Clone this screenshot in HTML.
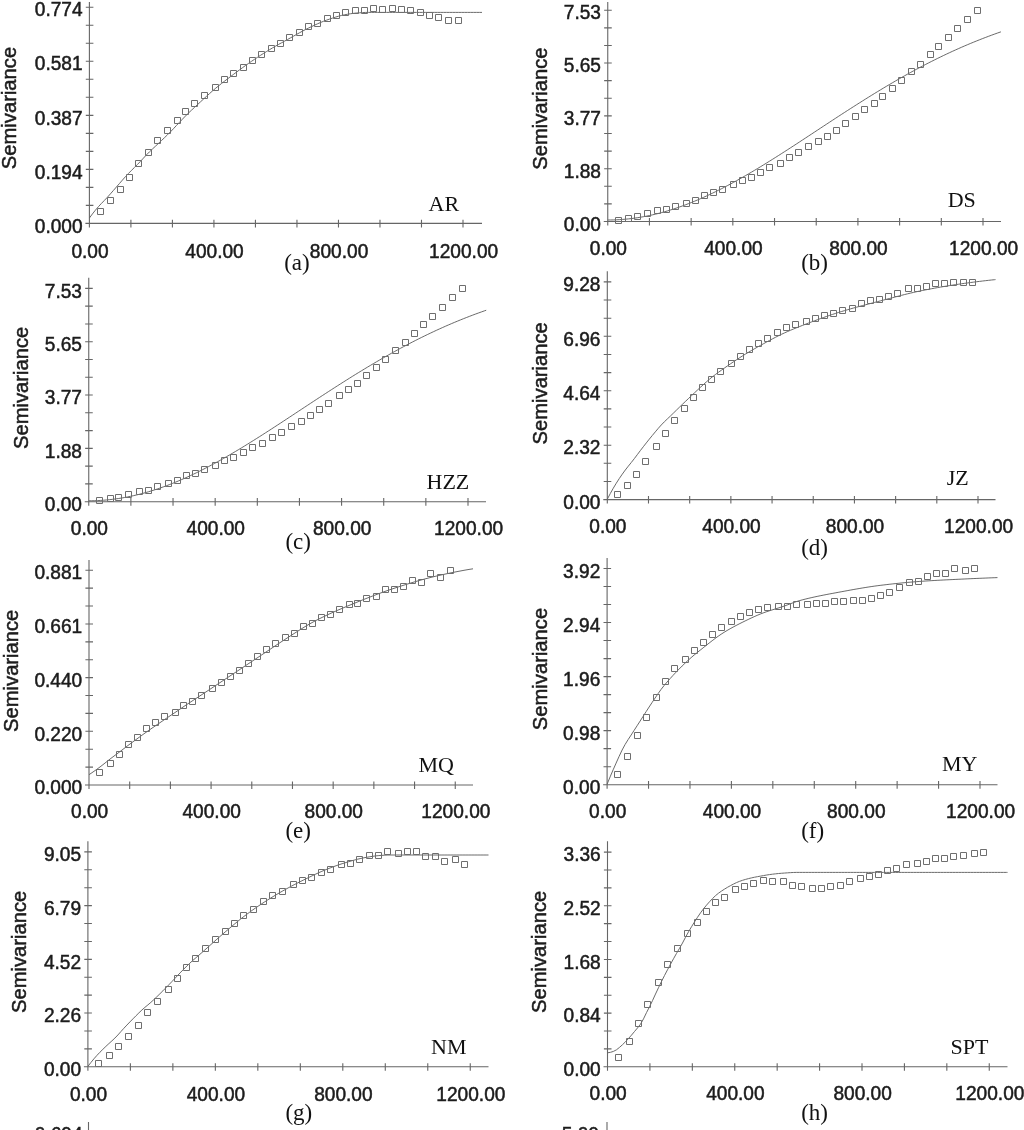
<!DOCTYPE html>
<html lang="en">
<head>
<meta charset="utf-8">
<title>Semivariograms</title>
<style>
html,body{margin:0;padding:0;background:#fff;}
body{width:1024px;height:1130px;overflow:hidden;}
svg{display:block;}
.ax{fill:none;stroke:#666;stroke-width:1.1;}
.cv{fill:none;stroke:#626262;stroke-width:0.95;}
.mk{fill:none;stroke:#6e6e6e;stroke-width:1;}
.cv{stroke-linejoin:round;}
.tk{font-family:"Liberation Sans",Arial,Helvetica,sans-serif;font-size:19.5px;fill:#1c1c1c;stroke:#1c1c1c;stroke-width:0.5;}
.yl{font-family:"Liberation Sans",Arial,Helvetica,sans-serif;font-size:20.2px;fill:#1c1c1c;stroke:#1c1c1c;stroke-width:0.5;}
.sf{font-family:"Liberation Serif","Times New Roman",Times,serif;font-size:22px;fill:#111;}
.cp{font-size:23px;}
</style>
</head>
<body>
<svg width="1024" height="1130" viewBox="0 0 1024 1130">
<rect width="1024" height="1130" fill="#ffffff"/>
<g id="panel-a">
<path class="ax" d="M89.4 2V227.4M85.4 223.4H482M85.8 7.25h7.6M85.8 25.26h7.6M85.8 43.27h7.6M85.8 61.29h7.6M85.8 79.3h7.6M85.8 97.31h7.6M85.8 115.33h7.6M85.8 133.34h7.6M85.8 151.35h7.6M85.8 169.36h7.6M85.8 187.38h7.6M85.8 205.39h7.6M130.91 219.8v7.6M172.42 219.8v7.6M213.93 219.8v7.6M255.44 219.8v7.6M296.96 219.8v7.6M338.47 219.8v7.6M379.98 219.8v7.6M421.49 219.8v7.6M463 219.8v7.6"/>
<polyline class="cv" points="89.4,218 92.4,213.98 95.4,210.19 98.4,206.69 101.4,203.49 104.4,200.4 107.4,197.24 110.4,193.89 113.4,190.47 116.4,187.03 119.4,183.59 122.4,180.12 125.4,176.72 128.4,173.52 131.4,170.48 134.4,167.52 137.4,164.53 140.4,161.42 143.4,158.18 146.4,154.95 149.4,151.91 152.4,149.06 155.4,146.27 158.4,143.44 161.4,140.61 164.4,137.77 167.4,134.88 170.4,131.89 173.4,128.77 176.4,125.56 179.4,122.39 182.4,119.23 185.4,116.11 188.4,113.12 191.4,110.27 194.4,107.51 197.4,104.73 200.4,101.94 203.4,99.17 206.4,96.43 209.4,93.71 212.4,91.03 215.4,88.47 218.4,86 221.4,83.61 224.4,81.27 227.4,78.97 230.4,76.7 233.4,74.45 236.4,72.21 239.4,69.98 242.4,67.78 245.4,65.61 248.4,63.49 251.4,61.41 254.4,59.38 257.4,57.38 260.4,55.42 263.4,53.49 266.4,51.61 269.4,49.76 272.4,47.97 275.4,46.23 278.4,44.54 281.4,42.88 284.4,41.23 287.4,39.58 290.4,37.92 293.4,36.23 296.4,34.52 299.4,32.83 302.4,31.19 305.4,29.6 308.4,28.11 311.4,26.66 314.4,25.24 317.4,23.87 320.4,22.57 323.4,21.34 326.4,20.21 329.4,19.16 332.4,18.14 335.4,17.16 338.4,16.27 341.4,15.47 344.4,14.81 347.4,14.27 350.4,13.78 353.4,13.36 356.4,13.03 359.4,12.8 362.4,12.6 365.4,12.45 368.4,12.4 371.4,12.4 374.4,12.4 377.4,12.4 380.4,12.4 383.4,12.4 386.4,12.4 389.4,12.4 392.4,12.4 395.4,12.4 398.4,12.4 401.4,12.4 404.4,12.4 407.4,12.4 410.4,12.4 413.4,12.4 416.4,12.4 419.4,12.4 422.4,12.4 425.4,12.4 428.4,12.4 431.4,12.4 434.4,12.4 437.4,12.4 440.4,12.4 443.4,12.4 446.4,12.4 449.4,12.4 452.4,12.4 455.4,12.4 458.4,12.4 461.4,12.4 464.4,12.4 467.4,12.4 470.4,12.4 473.4,12.4 476.4,12.4 479.4,12.4 482,12.4"/>
<path class="mk" d="M97.5 208.5h6v6h-6zM107.5 197.5h6v6h-6zM117.5 186.5h6v6h-6zM126.5 174.5h6v6h-6zM135.5 160.5h6v6h-6zM145.5 149.5h6v6h-6zM154.5 137.5h6v6h-6zM164.5 127.5h6v6h-6zM174.5 117.5h6v6h-6zM182.5 108.5h6v6h-6zM191.5 100.5h6v6h-6zM201.5 92.5h6v6h-6zM212.5 84.5h6v6h-6zM221.5 76.5h6v6h-6zM230.5 70.5h6v6h-6zM240.5 64.5h6v6h-6zM249.5 57.5h6v6h-6zM258.5 51.5h6v6h-6zM268.5 45.5h6v6h-6zM277.5 40.5h6v6h-6zM286.5 34.5h6v6h-6zM296.5 29.5h6v6h-6zM305.5 23.5h6v6h-6zM314.5 20.5h6v6h-6zM324.5 15.5h6v6h-6zM333.5 12.5h6v6h-6zM342.5 9.5h6v6h-6zM352.5 7.5h6v6h-6zM361.5 7.5h6v6h-6zM370.5 5.5h6v6h-6zM379.5 6.5h6v6h-6zM389.5 5.5h6v6h-6zM398.5 6.5h6v6h-6zM407.5 7.5h6v6h-6zM417.5 9.5h6v6h-6zM426.5 12.5h6v6h-6zM435.5 14.5h6v6h-6zM445.5 17.5h6v6h-6zM455.5 17.5h6v6h-6z"/>
<text class="tk" text-anchor="end" transform="translate(82.6 16.45) scale(0.98 1)">0.774</text>
<text class="tk" text-anchor="end" transform="translate(82.6 70.49) scale(0.98 1)">0.581</text>
<text class="tk" text-anchor="end" transform="translate(82.6 124.53) scale(0.98 1)">0.387</text>
<text class="tk" text-anchor="end" transform="translate(82.6 178.56) scale(0.98 1)">0.194</text>
<text class="tk" text-anchor="end" transform="translate(82.6 232.6) scale(0.98 1)">0.000</text>
<text class="tk" text-anchor="middle" transform="translate(90 258.4) scale(0.98 1)">0.00</text>
<text class="tk" text-anchor="middle" transform="translate(214.53 258.4) scale(0.98 1)">400.00</text>
<text class="tk" text-anchor="middle" transform="translate(339.07 258.4) scale(0.98 1)">800.00</text>
<text class="tk" text-anchor="middle" transform="translate(463.6 258.4) scale(0.98 1)">1200.00</text>
<text class="yl" text-anchor="middle" transform="translate(16.2 108) rotate(-90)">Semivariance</text>
<text class="sf" x="428.5" y="210.75">AR</text>
<text class="sf cp" x="284.15" y="270">(a)</text>
</g>
<g id="panel-b">
<path class="ax" d="M607.75 2V225.5M603.75 221.5H1001M604.15 10.25h7.6M604.15 27.85h7.6M604.15 45.46h7.6M604.15 63.06h7.6M604.15 80.67h7.6M604.15 98.27h7.6M604.15 115.88h7.6M604.15 133.48h7.6M604.15 151.08h7.6M604.15 168.69h7.6M604.15 186.29h7.6M604.15 203.9h7.6M649.44 217.9v7.6M691.14 217.9v7.6M732.83 217.9v7.6M774.53 217.9v7.6M816.22 217.9v7.6M857.92 217.9v7.6M899.61 217.9v7.6M941.31 217.9v7.6M983 217.9v7.6"/>
<polyline class="cv" points="607.75,220 610.75,219.98 613.75,219.91 616.75,219.79 619.75,219.63 622.75,219.42 625.75,219.16 628.75,218.86 631.75,218.51 634.75,218.11 637.75,217.67 640.75,217.18 643.75,216.65 646.75,216.08 649.75,215.46 652.75,214.79 655.75,214.08 658.75,213.33 661.75,212.54 664.75,211.7 667.75,210.82 670.75,209.9 673.75,208.94 676.75,207.94 679.75,206.9 682.75,205.82 685.75,204.71 688.75,203.55 691.75,202.36 694.75,201.13 697.75,199.87 700.75,198.57 703.75,197.24 706.75,195.88 709.75,194.48 712.75,193.05 715.75,191.59 718.75,190.1 721.75,188.58 724.75,187.03 727.75,185.46 730.75,183.86 733.75,182.23 736.75,180.58 739.75,178.9 742.75,177.21 745.75,175.49 748.75,173.74 751.75,171.98 754.75,170.2 757.75,168.4 760.75,166.58 763.75,164.75 766.75,162.9 769.75,161.04 772.75,159.16 775.75,157.27 778.75,155.36 781.75,153.45 784.75,151.53 787.75,149.59 790.75,147.65 793.75,145.71 796.75,143.75 799.75,141.79 802.75,139.82 805.75,137.86 808.75,135.88 811.75,133.91 814.75,131.93 817.75,129.96 820.75,127.98 823.75,126.01 826.75,124.04 829.75,122.07 832.75,120.1 835.75,118.14 838.75,116.18 841.75,114.23 844.75,112.29 847.75,110.35 850.75,108.42 853.75,106.5 856.75,104.59 859.75,102.69 862.75,100.8 865.75,98.92 868.75,97.05 871.75,95.19 874.75,93.34 877.75,91.51 880.75,89.7 883.75,87.89 886.75,86.1 889.75,84.33 892.75,82.57 895.75,80.83 898.75,79.1 901.75,77.4 904.75,75.7 907.75,74.03 910.75,72.37 913.75,70.73 916.75,69.11 919.75,67.51 922.75,65.93 925.75,64.37 928.75,62.82 931.75,61.3 934.75,59.79 937.75,58.31 940.75,56.85 943.75,55.4 946.75,53.98 949.75,52.57 952.75,51.19 955.75,49.83 958.75,48.49 961.75,47.17 964.75,45.87 967.75,44.59 970.75,43.33 973.75,42.1 976.75,40.88 979.75,39.69 982.75,38.51 985.75,37.36 988.75,36.23 991.75,35.11 994.75,34.02 997.75,32.95 1000.75,31.9 1001,31.81"/>
<path class="mk" d="M615.5 217.5h6v6h-6zM625.5 215.5h6v6h-6zM634.5 213.5h6v6h-6zM644.5 210.5h6v6h-6zM654.5 207.5h6v6h-6zM663.5 206.5h6v6h-6zM672.5 203.5h6v6h-6zM683.5 200.5h6v6h-6zM692.5 197.5h6v6h-6zM701.5 192.5h6v6h-6zM710.5 189.5h6v6h-6zM719.5 186.5h6v6h-6zM730.5 181.5h6v6h-6zM739.5 177.5h6v6h-6zM748.5 174.5h6v6h-6zM757.5 169.5h6v6h-6zM766.5 164.5h6v6h-6zM777.5 160.5h6v6h-6zM786.5 154.5h6v6h-6zM795.5 149.5h6v6h-6zM805.5 143.5h6v6h-6zM815.5 138.5h6v6h-6zM824.5 133.5h6v6h-6zM833.5 127.5h6v6h-6zM842.5 120.5h6v6h-6zM852.5 113.5h6v6h-6zM861.5 106.5h6v6h-6zM871.5 100.5h6v6h-6zM879.5 93.5h6v6h-6zM889.5 85.5h6v6h-6zM898.5 77.5h6v6h-6zM908.5 68.5h6v6h-6zM917.5 61.5h6v6h-6zM927.5 51.5h6v6h-6zM935.5 43.5h6v6h-6zM945.5 34.5h6v6h-6zM954.5 25.5h6v6h-6zM964.5 16.5h6v6h-6zM974.5 7.5h6v6h-6z"/>
<text class="tk" text-anchor="end" transform="translate(600.95 19.45) scale(0.98 1)">7.53</text>
<text class="tk" text-anchor="end" transform="translate(600.95 72.26) scale(0.98 1)">5.65</text>
<text class="tk" text-anchor="end" transform="translate(600.95 125.08) scale(0.98 1)">3.77</text>
<text class="tk" text-anchor="end" transform="translate(600.95 177.89) scale(0.98 1)">1.88</text>
<text class="tk" text-anchor="end" transform="translate(600.95 230.7) scale(0.98 1)">0.00</text>
<text class="tk" text-anchor="middle" transform="translate(608.35 254.5) scale(0.98 1)">0.00</text>
<text class="tk" text-anchor="middle" transform="translate(733.43 254.5) scale(0.98 1)">400.00</text>
<text class="tk" text-anchor="middle" transform="translate(858.52 254.5) scale(0.98 1)">800.00</text>
<text class="tk" text-anchor="middle" transform="translate(983.6 254.5) scale(0.98 1)">1200.00</text>
<text class="yl" text-anchor="middle" transform="translate(546.9 108.6) rotate(-90)">Semivariance</text>
<text class="sf" x="947.7" y="207">DS</text>
<text class="sf cp" x="801.15" y="270">(b)</text>
</g>
<g id="panel-c">
<path class="ax" d="M88.75 277.75V505.7M84.75 501.7H486M85.15 288.4h7.6M85.15 306.17h7.6M85.15 323.95h7.6M85.15 341.72h7.6M85.15 359.5h7.6M85.15 377.27h7.6M85.15 395.05h7.6M85.15 412.82h7.6M85.15 430.6h7.6M85.15 448.38h7.6M85.15 466.15h7.6M85.15 483.92h7.6M130.89 498.1v7.6M173.03 498.1v7.6M215.17 498.1v7.6M257.31 498.1v7.6M299.44 498.1v7.6M341.58 498.1v7.6M383.72 498.1v7.6M425.86 498.1v7.6M468 498.1v7.6"/>
<polyline class="cv" points="88.75,500.79 91.75,500.77 94.75,500.7 97.75,500.58 100.75,500.42 103.75,500.21 106.75,499.95 109.75,499.65 112.75,499.31 115.75,498.92 118.75,498.48 121.75,498 124.75,497.47 127.75,496.9 130.75,496.28 133.75,495.62 136.75,494.92 139.75,494.18 142.75,493.39 145.75,492.56 148.75,491.69 151.75,490.77 154.75,489.82 157.75,488.83 160.75,487.8 163.75,486.73 166.75,485.62 169.75,484.47 172.75,483.29 175.75,482.07 178.75,480.81 181.75,479.53 184.75,478.2 187.75,476.85 190.75,475.46 193.75,474.04 196.75,472.59 199.75,471.11 202.75,469.59 205.75,468.06 208.75,466.49 211.75,464.9 214.75,463.28 217.75,461.63 220.75,459.97 223.75,458.28 226.75,456.56 229.75,454.83 232.75,453.07 235.75,451.3 238.75,449.5 241.75,447.69 244.75,445.86 247.75,444.02 250.75,442.16 253.75,440.29 256.75,438.4 259.75,436.5 262.75,434.59 265.75,432.67 268.75,430.74 271.75,428.8 274.75,426.85 277.75,424.9 280.75,422.94 283.75,420.97 286.75,419 289.75,417.03 292.75,415.05 295.75,413.07 298.75,411.09 301.75,409.11 304.75,407.13 307.75,405.16 310.75,403.18 313.75,401.21 316.75,399.24 319.75,397.28 322.75,395.32 325.75,393.36 328.75,391.42 331.75,389.48 334.75,387.54 337.75,385.62 340.75,383.71 343.75,381.8 346.75,379.91 349.75,378.02 352.75,376.15 355.75,374.29 358.75,372.45 361.75,370.61 364.75,368.79 367.75,366.98 370.75,365.19 373.75,363.42 376.75,361.65 379.75,359.91 382.75,358.18 385.75,356.47 388.75,354.77 391.75,353.09 394.75,351.43 397.75,349.79 400.75,348.16 403.75,346.56 406.75,344.97 409.75,343.4 412.75,341.85 415.75,340.32 418.75,338.81 421.75,337.32 424.75,335.85 427.75,334.4 430.75,332.97 433.75,331.56 436.75,330.17 439.75,328.8 442.75,327.45 445.75,326.12 448.75,324.82 451.75,323.53 454.75,322.26 457.75,321.02 460.75,319.79 463.75,318.59 466.75,317.41 469.75,316.24 472.75,315.1 475.75,313.98 478.75,312.88 481.75,311.8 484.75,310.74 486.19,310.24"/>
<path class="mk" d="M96.5 497.5h6v6h-6zM107.5 495.5h6v6h-6zM115.5 494.5h6v6h-6zM125.5 491.5h6v6h-6zM136.5 488.5h6v6h-6zM145.5 487.5h6v6h-6zM154.5 483.5h6v6h-6zM165.5 480.5h6v6h-6zM174.5 477.5h6v6h-6zM183.5 472.5h6v6h-6zM192.5 470.5h6v6h-6zM201.5 466.5h6v6h-6zM212.5 462.5h6v6h-6zM221.5 457.5h6v6h-6zM230.5 454.5h6v6h-6zM240.5 449.5h6v6h-6zM249.5 444.5h6v6h-6zM259.5 440.5h6v6h-6zM269.5 434.5h6v6h-6zM278.5 429.5h6v6h-6zM288.5 423.5h6v6h-6zM298.5 418.5h6v6h-6zM307.5 412.5h6v6h-6zM316.5 406.5h6v6h-6zM325.5 400.5h6v6h-6zM336.5 392.5h6v6h-6zM345.5 386.5h6v6h-6zM354.5 380.5h6v6h-6zM363.5 372.5h6v6h-6zM373.5 364.5h6v6h-6zM382.5 356.5h6v6h-6zM392.5 347.5h6v6h-6zM402.5 339.5h6v6h-6zM411.5 330.5h6v6h-6zM420.5 321.5h6v6h-6zM429.5 313.5h6v6h-6zM439.5 304.5h6v6h-6zM449.5 294.5h6v6h-6zM459.5 285.5h6v6h-6z"/>
<text class="tk" text-anchor="end" transform="translate(81.95 297.6) scale(0.98 1)">7.53</text>
<text class="tk" text-anchor="end" transform="translate(81.95 350.92) scale(0.98 1)">5.65</text>
<text class="tk" text-anchor="end" transform="translate(81.95 404.25) scale(0.98 1)">3.77</text>
<text class="tk" text-anchor="end" transform="translate(81.95 457.57) scale(0.98 1)">1.88</text>
<text class="tk" text-anchor="end" transform="translate(81.95 510.9) scale(0.98 1)">0.00</text>
<text class="tk" text-anchor="middle" transform="translate(89.35 535) scale(0.98 1)">0.00</text>
<text class="tk" text-anchor="middle" transform="translate(215.77 535) scale(0.98 1)">400.00</text>
<text class="tk" text-anchor="middle" transform="translate(342.18 535) scale(0.98 1)">800.00</text>
<text class="tk" text-anchor="middle" transform="translate(468.6 535) scale(0.98 1)">1200.00</text>
<text class="yl" text-anchor="middle" transform="translate(27.6 387.9) rotate(-90)">Semivariance</text>
<text class="sf" x="426.5" y="488.75">HZZ</text>
<text class="sf cp" x="285.4" y="549">(c)</text>
</g>
<g id="panel-d">
<path class="ax" d="M607.3 271.25V503.6M603.3 499.6H995.5M603.7 281.9h7.6M603.7 300.04h7.6M603.7 318.18h7.6M603.7 336.32h7.6M603.7 354.47h7.6M603.7 372.61h7.6M603.7 390.75h7.6M603.7 408.89h7.6M603.7 427.03h7.6M603.7 445.18h7.6M603.7 463.32h7.6M603.7 481.46h7.6M648.49 496v7.6M689.68 496v7.6M730.87 496v7.6M772.06 496v7.6M813.24 496v7.6M854.43 496v7.6M895.62 496v7.6M936.81 496v7.6M978 496v7.6"/>
<polyline class="cv" points="607.3,499.2 610.3,493.52 613.3,488.16 616.3,483.18 619.3,478.52 622.3,474.14 625.3,470.01 628.3,466.18 631.3,462.47 634.3,458.65 637.3,454.66 640.3,450.65 643.3,446.74 646.3,442.91 649.3,439.15 652.3,435.48 655.3,431.86 658.3,428.31 661.3,424.95 664.3,421.85 667.3,418.97 670.3,416.14 673.3,413.23 676.3,410.28 679.3,407.33 682.3,404.42 685.3,401.56 688.3,398.71 691.3,395.88 694.3,393.04 697.3,390.2 700.3,387.4 703.3,384.68 706.3,381.98 709.3,379.37 712.3,376.92 715.3,374.62 718.3,372.41 721.3,370.26 724.3,368.13 727.3,366.02 730.3,363.95 733.3,361.91 736.3,359.9 739.3,357.95 742.3,356.04 745.3,354.18 748.3,352.37 751.3,350.6 754.3,348.87 757.3,347.16 760.3,345.49 763.3,343.84 766.3,342.19 769.3,340.56 772.3,338.96 775.3,337.39 778.3,335.87 781.3,334.4 784.3,333 787.3,331.65 790.3,330.35 793.3,329.09 796.3,327.86 799.3,326.65 802.3,325.47 805.3,324.31 808.3,323.15 811.3,322.01 814.3,320.88 817.3,319.77 820.3,318.67 823.3,317.6 826.3,316.54 829.3,315.5 832.3,314.49 835.3,313.5 838.3,312.53 841.3,311.6 844.3,310.69 847.3,309.8 850.3,308.94 853.3,308.09 856.3,307.26 859.3,306.44 862.3,305.64 865.3,304.84 868.3,304.05 871.3,303.27 874.3,302.49 877.3,301.71 880.3,300.92 883.3,300.13 886.3,299.33 889.3,298.54 892.3,297.74 895.3,296.95 898.3,296.16 901.3,295.39 904.3,294.62 907.3,293.88 910.3,293.16 913.3,292.46 916.3,291.79 919.3,291.15 922.3,290.53 925.3,289.93 928.3,289.35 931.3,288.77 934.3,288.22 937.3,287.67 940.3,287.14 943.3,286.62 946.3,286.12 949.3,285.63 952.3,285.16 955.3,284.7 958.3,284.25 961.3,283.81 964.3,283.39 967.3,282.97 970.3,282.57 973.3,282.17 976.3,281.78 979.3,281.41 982.3,281.05 985.3,280.7 988.3,280.36 991.3,280.03 994.3,279.72 995.5,279.6"/>
<path class="mk" d="M614.5 491.5h6v6h-6zM624.5 482.5h6v6h-6zM633.5 471.5h6v6h-6zM642.5 458.5h6v6h-6zM653.5 443.5h6v6h-6zM662.5 430.5h6v6h-6zM671.5 417.5h6v6h-6zM681.5 405.5h6v6h-6zM690.5 394.5h6v6h-6zM699.5 384.5h6v6h-6zM708.5 376.5h6v6h-6zM717.5 368.5h6v6h-6zM728.5 360.5h6v6h-6zM737.5 353.5h6v6h-6zM746.5 346.5h6v6h-6zM755.5 340.5h6v6h-6zM764.5 335.5h6v6h-6zM774.5 329.5h6v6h-6zM783.5 324.5h6v6h-6zM792.5 321.5h6v6h-6zM803.5 318.5h6v6h-6zM812.5 315.5h6v6h-6zM821.5 312.5h6v6h-6zM830.5 310.5h6v6h-6zM839.5 307.5h6v6h-6zM849.5 305.5h6v6h-6zM858.5 300.5h6v6h-6zM867.5 297.5h6v6h-6zM876.5 296.5h6v6h-6zM885.5 293.5h6v6h-6zM894.5 290.5h6v6h-6zM905.5 285.5h6v6h-6zM914.5 285.5h6v6h-6zM923.5 283.5h6v6h-6zM932.5 280.5h6v6h-6zM941.5 280.5h6v6h-6zM950.5 279.5h6v6h-6zM960.5 279.5h6v6h-6zM969.5 279.5h6v6h-6z"/>
<text class="tk" text-anchor="end" transform="translate(600.5 291.1) scale(0.98 1)">9.28</text>
<text class="tk" text-anchor="end" transform="translate(600.5 345.52) scale(0.98 1)">6.96</text>
<text class="tk" text-anchor="end" transform="translate(600.5 399.95) scale(0.98 1)">4.64</text>
<text class="tk" text-anchor="end" transform="translate(600.5 454.38) scale(0.98 1)">2.32</text>
<text class="tk" text-anchor="end" transform="translate(600.5 508.8) scale(0.98 1)">0.00</text>
<text class="tk" text-anchor="middle" transform="translate(607.9 532.6) scale(0.98 1)">0.00</text>
<text class="tk" text-anchor="middle" transform="translate(731.47 532.6) scale(0.98 1)">400.00</text>
<text class="tk" text-anchor="middle" transform="translate(855.03 532.6) scale(0.98 1)">800.00</text>
<text class="tk" text-anchor="middle" transform="translate(978.6 532.6) scale(0.98 1)">1200.00</text>
<text class="yl" text-anchor="middle" transform="translate(547 383.3) rotate(-90)">Semivariance</text>
<text class="sf" x="946.75" y="484.5">JZ</text>
<text class="sf cp" x="801.15" y="555">(d)</text>
</g>
<g id="panel-e">
<path class="ax" d="M89 560V789M85 785H473M85.4 570.25h7.6M85.4 588.15h7.6M85.4 606.04h7.6M85.4 623.94h7.6M85.4 641.83h7.6M85.4 659.73h7.6M85.4 677.62h7.6M85.4 695.52h7.6M85.4 713.42h7.6M85.4 731.31h7.6M85.4 749.21h7.6M85.4 767.1h7.6M129.69 781.4v7.6M170.39 781.4v7.6M211.08 781.4v7.6M251.78 781.4v7.6M292.47 781.4v7.6M333.17 781.4v7.6M373.86 781.4v7.6M414.56 781.4v7.6M455.25 781.4v7.6"/>
<polyline class="cv" points="89,774.7 92,772.68 95,770.58 98,768.43 101,766.2 104,763.85 107,761.45 110,759.09 113,756.81 116,754.57 119,752.33 122,750.05 125,747.75 128,745.47 131,743.24 134,741.04 137,738.85 140,736.67 143,734.49 146,732.34 149,730.23 152,728.15 155,726.09 158,724.03 161,721.97 164,719.92 167,717.89 170,715.88 173,713.88 176,711.86 179,709.81 182,707.75 185,705.73 188,703.73 191,701.76 194,699.78 197,697.82 200,695.85 203,693.88 206,691.9 209,689.91 212,687.93 215,685.94 218,683.95 221,681.96 224,679.96 227,677.97 230,675.98 233,673.98 236,671.99 239,669.99 242,668 245,666 248,664 251,662.01 254,660.01 257,658.02 260,656.03 263,654.03 266,652.03 269,650.02 272,648 275,645.99 278,643.98 281,642 284,640.04 287,638.12 290,636.18 293,634.24 296,632.31 299,630.39 302,628.51 305,626.67 308,624.89 311,623.17 314,621.53 317,619.96 320,618.45 323,616.97 326,615.54 329,614.14 332,612.77 335,611.43 338,610.12 341,608.83 344,607.55 347,606.3 350,605.05 353,603.82 356,602.59 359,601.37 362,600.16 365,598.97 368,597.79 371,596.62 374,595.47 377,594.34 380,593.22 383,592.13 386,591.06 389,590.02 392,588.99 395,588 398,587.02 401,586.06 404,585.11 407,584.17 410,583.24 413,582.34 416,581.45 419,580.59 422,579.75 425,578.93 428,578.14 431,577.37 434,576.64 437,575.93 440,575.24 443,574.56 446,573.9 449,573.25 452,572.63 455,572.02 458,571.43 461,570.86 464,570.31 467,569.78 470,569.28 473,568.8"/>
<path class="mk" d="M96.5 769.5h6v6h-6zM107.5 760.5h6v6h-6zM116.5 751.5h6v6h-6zM125.5 741.5h6v6h-6zM134.5 734.5h6v6h-6zM143.5 725.5h6v6h-6zM152.5 719.5h6v6h-6zM161.5 713.5h6v6h-6zM172.5 709.5h6v6h-6zM180.5 702.5h6v6h-6zM189.5 698.5h6v6h-6zM198.5 692.5h6v6h-6zM209.5 685.5h6v6h-6zM218.5 679.5h6v6h-6zM227.5 673.5h6v6h-6zM236.5 667.5h6v6h-6zM245.5 660.5h6v6h-6zM254.5 653.5h6v6h-6zM263.5 646.5h6v6h-6zM272.5 640.5h6v6h-6zM282.5 634.5h6v6h-6zM291.5 630.5h6v6h-6zM300.5 623.5h6v6h-6zM309.5 620.5h6v6h-6zM318.5 614.5h6v6h-6zM327.5 611.5h6v6h-6zM336.5 606.5h6v6h-6zM346.5 601.5h6v6h-6zM354.5 600.5h6v6h-6zM363.5 595.5h6v6h-6zM373.5 593.5h6v6h-6zM382.5 586.5h6v6h-6zM391.5 586.5h6v6h-6zM400.5 583.5h6v6h-6zM409.5 577.5h6v6h-6zM418.5 579.5h6v6h-6zM427.5 570.5h6v6h-6zM437.5 574.5h6v6h-6zM447.5 567.5h6v6h-6z"/>
<text class="tk" text-anchor="end" transform="translate(82.2 579.45) scale(0.98 1)">0.881</text>
<text class="tk" text-anchor="end" transform="translate(82.2 633.14) scale(0.98 1)">0.661</text>
<text class="tk" text-anchor="end" transform="translate(82.2 686.83) scale(0.98 1)">0.440</text>
<text class="tk" text-anchor="end" transform="translate(82.2 740.51) scale(0.98 1)">0.220</text>
<text class="tk" text-anchor="end" transform="translate(82.2 794.2) scale(0.98 1)">0.000</text>
<text class="tk" text-anchor="middle" transform="translate(89.6 818) scale(0.98 1)">0.00</text>
<text class="tk" text-anchor="middle" transform="translate(211.68 818) scale(0.98 1)">400.00</text>
<text class="tk" text-anchor="middle" transform="translate(333.77 818) scale(0.98 1)">800.00</text>
<text class="tk" text-anchor="middle" transform="translate(455.85 818) scale(0.98 1)">1200.00</text>
<text class="yl" text-anchor="middle" transform="translate(18.1 670.8) rotate(-90)">Semivariance</text>
<text class="sf" x="418.5" y="772">MQ</text>
<text class="sf cp" x="285.4" y="838">(e)</text>
</g>
<g id="panel-f">
<path class="ax" d="M607.1 558.1V788.7M603.1 784.7H997.5M603.5 568.5h7.6M603.5 586.52h7.6M603.5 604.53h7.6M603.5 622.55h7.6M603.5 640.57h7.6M603.5 658.58h7.6M603.5 676.6h7.6M603.5 694.62h7.6M603.5 712.63h7.6M603.5 730.65h7.6M603.5 748.67h7.6M603.5 766.68h7.6M648.53 781.1v7.6M689.97 781.1v7.6M731.4 781.1v7.6M772.83 781.1v7.6M814.27 781.1v7.6M855.7 781.1v7.6M897.13 781.1v7.6M938.57 781.1v7.6M980 781.1v7.6"/>
<polyline class="cv" points="607.1,784.2 610.1,776.92 613.1,769.89 616.1,763.11 619.1,756.4 622.1,750.05 625.1,744.48 628.1,739.64 631.1,735.07 634.1,730.4 637.1,725.75 640.1,721.09 643.1,716.37 646.1,711.66 649.1,707.03 652.1,702.47 655.1,698.01 658.1,693.61 661.1,689.39 664.1,685.56 667.1,682.02 670.1,678.61 673.1,675.31 676.1,672.13 679.1,669.04 682.1,666.04 685.1,663.14 688.1,660.33 691.1,657.64 694.1,655.07 697.1,652.62 700.1,650.22 703.1,647.86 706.1,645.48 709.1,643.1 712.1,640.77 715.1,638.49 718.1,636.3 721.1,634.24 724.1,632.31 727.1,630.49 730.1,628.76 733.1,627.1 736.1,625.5 739.1,623.95 742.1,622.45 745.1,620.96 748.1,619.51 751.1,618.08 754.1,616.71 757.1,615.39 760.1,614.13 763.1,612.96 766.1,611.88 769.1,610.88 772.1,609.93 775.1,609.01 778.1,608.08 781.1,607.13 784.1,606.12 787.1,605.03 790.1,603.89 793.1,602.77 796.1,601.7 799.1,600.75 802.1,599.93 805.1,599.16 808.1,598.42 811.1,597.72 814.1,597.05 817.1,596.41 820.1,595.79 823.1,595.19 826.1,594.6 829.1,594.03 832.1,593.47 835.1,592.91 838.1,592.35 841.1,591.8 844.1,591.24 847.1,590.69 850.1,590.14 853.1,589.6 856.1,589.07 859.1,588.55 862.1,588.04 865.1,587.55 868.1,587.07 871.1,586.62 874.1,586.18 877.1,585.77 880.1,585.39 883.1,585.02 886.1,584.66 889.1,584.31 892.1,583.97 895.1,583.64 898.1,583.33 901.1,583.02 904.1,582.73 907.1,582.45 910.1,582.18 913.1,581.93 916.1,581.69 919.1,581.46 922.1,581.25 925.1,581.05 928.1,580.86 931.1,580.68 934.1,580.51 937.1,580.34 940.1,580.18 943.1,580.02 946.1,579.87 949.1,579.72 952.1,579.58 955.1,579.43 958.1,579.29 961.1,579.15 964.1,579.01 967.1,578.87 970.1,578.73 973.1,578.59 976.1,578.46 979.1,578.33 982.1,578.21 985.1,578.08 988.1,577.96 991.1,577.84 994.1,577.73 997.1,577.61 997.5,577.6"/>
<path class="mk" d="M614.5 771.5h6v6h-6zM624.5 753.5h6v6h-6zM634.5 732.5h6v6h-6zM643.5 714.5h6v6h-6zM653.5 694.5h6v6h-6zM662.5 678.5h6v6h-6zM671.5 665.5h6v6h-6zM682.5 656.5h6v6h-6zM691.5 647.5h6v6h-6zM700.5 639.5h6v6h-6zM709.5 631.5h6v6h-6zM718.5 624.5h6v6h-6zM728.5 618.5h6v6h-6zM737.5 613.5h6v6h-6zM746.5 609.5h6v6h-6zM755.5 606.5h6v6h-6zM764.5 604.5h6v6h-6zM775.5 603.5h6v6h-6zM784.5 603.5h6v6h-6zM793.5 601.5h6v6h-6zM804.5 601.5h6v6h-6zM813.5 600.5h6v6h-6zM822.5 600.5h6v6h-6zM831.5 598.5h6v6h-6zM840.5 598.5h6v6h-6zM850.5 597.5h6v6h-6zM859.5 597.5h6v6h-6zM868.5 595.5h6v6h-6zM877.5 592.5h6v6h-6zM886.5 589.5h6v6h-6zM896.5 584.5h6v6h-6zM906.5 579.5h6v6h-6zM915.5 578.5h6v6h-6zM924.5 573.5h6v6h-6zM933.5 570.5h6v6h-6zM942.5 570.5h6v6h-6zM951.5 565.5h6v6h-6zM962.5 567.5h6v6h-6zM971.5 565.5h6v6h-6z"/>
<text class="tk" text-anchor="end" transform="translate(600.3 577.7) scale(0.98 1)">3.92</text>
<text class="tk" text-anchor="end" transform="translate(600.3 631.75) scale(0.98 1)">2.94</text>
<text class="tk" text-anchor="end" transform="translate(600.3 685.8) scale(0.98 1)">1.96</text>
<text class="tk" text-anchor="end" transform="translate(600.3 739.85) scale(0.98 1)">0.98</text>
<text class="tk" text-anchor="end" transform="translate(600.3 793.9) scale(0.98 1)">0.00</text>
<text class="tk" text-anchor="middle" transform="translate(607.7 817.7) scale(0.98 1)">0.00</text>
<text class="tk" text-anchor="middle" transform="translate(732 817.7) scale(0.98 1)">400.00</text>
<text class="tk" text-anchor="middle" transform="translate(856.3 817.7) scale(0.98 1)">800.00</text>
<text class="tk" text-anchor="middle" transform="translate(980.6 817.7) scale(0.98 1)">1200.00</text>
<text class="yl" text-anchor="middle" transform="translate(547 669) rotate(-90)">Semivariance</text>
<text class="sf" x="942" y="771.25">MY</text>
<text class="sf cp" x="801.15" y="838">(f)</text>
</g>
<g id="panel-g">
<path class="ax" d="M87.9 841.25V1070.8M83.9 1066.8H488.5M84.3 851.9h7.6M84.3 869.81h7.6M84.3 887.72h7.6M84.3 905.62h7.6M84.3 923.53h7.6M84.3 941.44h7.6M84.3 959.35h7.6M84.3 977.26h7.6M84.3 995.17h7.6M84.3 1013.07h7.6M84.3 1030.98h7.6M84.3 1048.89h7.6M130.38 1063.2v7.6M172.87 1063.2v7.6M215.35 1063.2v7.6M257.83 1063.2v7.6M300.32 1063.2v7.6M342.8 1063.2v7.6M385.28 1063.2v7.6M427.77 1063.2v7.6M470.25 1063.2v7.6"/>
<polyline class="cv" points="87.9,1066.4 90.9,1062.52 93.9,1058.85 96.9,1055.44 99.9,1052.28 102.9,1049.3 105.9,1046.39 108.9,1043.59 111.9,1040.89 114.9,1038.09 117.9,1034.98 120.9,1031.59 123.9,1028.26 126.9,1025.08 129.9,1021.96 132.9,1018.9 135.9,1015.87 138.9,1012.88 141.9,1010.01 144.9,1007.36 147.9,1004.91 150.9,1002.35 153.9,999.59 156.9,996.72 159.9,993.79 162.9,990.83 165.9,987.81 168.9,984.74 171.9,981.61 174.9,978.4 177.9,975.19 180.9,972.07 183.9,969 186.9,965.99 189.9,963.11 192.9,960.38 195.9,957.76 198.9,955.18 201.9,952.58 204.9,949.92 207.9,947.24 210.9,944.56 213.9,941.87 216.9,939.2 219.9,936.56 222.9,933.95 225.9,931.37 228.9,928.8 231.9,926.24 234.9,923.71 237.9,921.23 240.9,918.81 243.9,916.48 246.9,914.21 249.9,912 252.9,909.84 255.9,907.73 258.9,905.68 261.9,903.67 264.9,901.72 267.9,899.81 270.9,897.94 273.9,896.11 276.9,894.32 279.9,892.56 282.9,890.84 285.9,889.16 288.9,887.51 291.9,885.9 294.9,884.34 297.9,882.81 300.9,881.31 303.9,879.84 306.9,878.37 309.9,876.9 312.9,875.45 315.9,874.02 318.9,872.63 321.9,871.3 324.9,870.04 327.9,868.84 330.9,867.67 333.9,866.54 336.9,865.46 339.9,864.43 342.9,863.45 345.9,862.53 348.9,861.63 351.9,860.76 354.9,859.92 357.9,859.14 360.9,858.43 363.9,857.8 366.9,857.26 369.9,856.75 372.9,856.29 375.9,855.89 378.9,855.59 381.9,855.36 384.9,855.17 387.9,855.03 390.9,855 393.9,855 396.9,855 399.9,855 402.9,855 405.9,855 408.9,855 411.9,855 414.9,855 417.9,855 420.9,855 423.9,855 426.9,855 429.9,855 432.9,855 435.9,855 438.9,855 441.9,855 444.9,855 447.9,855 450.9,855 453.9,855 456.9,855 459.9,855 462.9,855 465.9,855 468.9,855 471.9,855 474.9,855 477.9,855 480.9,855 483.9,855 486.9,855 488.5,855"/>
<path class="mk" d="M95.5 1060.5h6v6h-6zM106.5 1052.5h6v6h-6zM115.5 1043.5h6v6h-6zM125.5 1033.5h6v6h-6zM135.5 1022.5h6v6h-6zM144.5 1009.5h6v6h-6zM154.5 998.5h6v6h-6zM165.5 986.5h6v6h-6zM174.5 975.5h6v6h-6zM183.5 964.5h6v6h-6zM192.5 955.5h6v6h-6zM202.5 945.5h6v6h-6zM212.5 936.5h6v6h-6zM222.5 928.5h6v6h-6zM231.5 920.5h6v6h-6zM240.5 912.5h6v6h-6zM250.5 906.5h6v6h-6zM260.5 898.5h6v6h-6zM269.5 892.5h6v6h-6zM279.5 888.5h6v6h-6zM290.5 881.5h6v6h-6zM299.5 877.5h6v6h-6zM308.5 874.5h6v6h-6zM318.5 869.5h6v6h-6zM327.5 866.5h6v6h-6zM338.5 861.5h6v6h-6zM347.5 860.5h6v6h-6zM356.5 856.5h6v6h-6zM366.5 852.5h6v6h-6zM375.5 852.5h6v6h-6zM384.5 848.5h6v6h-6zM395.5 850.5h6v6h-6zM404.5 848.5h6v6h-6zM413.5 848.5h6v6h-6zM422.5 853.5h6v6h-6zM432.5 853.5h6v6h-6zM441.5 858.5h6v6h-6zM452.5 856.5h6v6h-6zM461.5 861.5h6v6h-6z"/>
<text class="tk" text-anchor="end" transform="translate(81.1 861.1) scale(0.98 1)">9.05</text>
<text class="tk" text-anchor="end" transform="translate(81.1 914.83) scale(0.98 1)">6.79</text>
<text class="tk" text-anchor="end" transform="translate(81.1 968.55) scale(0.98 1)">4.52</text>
<text class="tk" text-anchor="end" transform="translate(81.1 1022.27) scale(0.98 1)">2.26</text>
<text class="tk" text-anchor="end" transform="translate(81.1 1076) scale(0.98 1)">0.00</text>
<text class="tk" text-anchor="middle" transform="translate(88.5 1100.5) scale(0.98 1)">0.00</text>
<text class="tk" text-anchor="middle" transform="translate(215.95 1100.5) scale(0.98 1)">400.00</text>
<text class="tk" text-anchor="middle" transform="translate(343.4 1100.5) scale(0.98 1)">800.00</text>
<text class="tk" text-anchor="middle" transform="translate(470.85 1100.5) scale(0.98 1)">1200.00</text>
<text class="yl" text-anchor="middle" transform="translate(26.2 951.9) rotate(-90)">Semivariance</text>
<text class="sf" x="431" y="1053.75">NM</text>
<text class="sf cp" x="285.4" y="1120">(g)</text>
</g>
<g id="panel-h">
<path class="ax" d="M607.5 841.25V1070.8M603.5 1066.8H1007.5M603.9 852.1h7.6M603.9 869.99h7.6M603.9 887.88h7.6M603.9 905.77h7.6M603.9 923.67h7.6M603.9 941.56h7.6M603.9 959.45h7.6M603.9 977.34h7.6M603.9 995.23h7.6M603.9 1013.12h7.6M603.9 1031.02h7.6M603.9 1048.91h7.6M649.92 1063.2v7.6M692.33 1063.2v7.6M734.75 1063.2v7.6M777.17 1063.2v7.6M819.58 1063.2v7.6M862 1063.2v7.6M904.42 1063.2v7.6M946.83 1063.2v7.6M989.25 1063.2v7.6"/>
<polyline class="cv" points="607.5,1052.8 610.5,1052.32 613.5,1051.36 616.5,1049.78 619.5,1047.39 622.5,1044.69 625.5,1041.73 628.5,1038.53 631.5,1035.12 634.5,1031.51 637.5,1027.96 640.5,1024.15 643.5,1018.86 646.5,1012.62 649.5,1006.8 652.5,1000.62 655.5,994.06 658.5,987.68 661.5,981.48 664.5,975.52 667.5,969.78 670.5,964.2 673.5,958.75 676.5,953.43 679.5,948.33 682.5,943.03 685.5,937.3 688.5,931.85 691.5,926.78 694.5,921.96 697.5,917.29 700.5,912.86 703.5,908.85 706.5,905.17 709.5,901.78 712.5,898.57 715.5,895.65 718.5,893.2 721.5,891.07 724.5,889.12 727.5,887.3 730.5,885.62 733.5,884.05 736.5,882.59 739.5,881.36 742.5,880.32 745.5,879.41 748.5,878.6 751.5,877.88 754.5,877.23 757.5,876.66 760.5,876.12 763.5,875.58 766.5,875.05 769.5,874.58 772.5,874.19 775.5,873.84 778.5,873.53 781.5,873.27 784.5,873.05 787.5,872.83 790.5,872.63 793.5,872.48 796.5,872.4 799.5,872.4 802.5,872.4 805.5,872.4 808.5,872.4 811.5,872.4 814.5,872.4 817.5,872.4 820.5,872.4 823.5,872.4 826.5,872.4 829.5,872.4 832.5,872.4 835.5,872.4 838.5,872.4 841.5,872.4 844.5,872.4 847.5,872.4 850.5,872.4 853.5,872.4 856.5,872.4 859.5,872.4 862.5,872.4 865.5,872.4 868.5,872.4 871.5,872.4 874.5,872.4 877.5,872.4 880.5,872.4 883.5,872.4 886.5,872.4 889.5,872.4 892.5,872.4 895.5,872.4 898.5,872.4 901.5,872.4 904.5,872.4 907.5,872.4 910.5,872.4 913.5,872.4 916.5,872.4 919.5,872.4 922.5,872.4 925.5,872.4 928.5,872.4 931.5,872.4 934.5,872.4 937.5,872.4 940.5,872.4 943.5,872.4 946.5,872.4 949.5,872.4 952.5,872.4 955.5,872.4 958.5,872.4 961.5,872.4 964.5,872.4 967.5,872.4 970.5,872.4 973.5,872.4 976.5,872.4 979.5,872.4 982.5,872.4 985.5,872.4 988.5,872.4 991.5,872.4 994.5,872.4 997.5,872.4 1000.5,872.4 1003.5,872.4 1006.5,872.4 1007.5,872.4"/>
<path class="mk" d="M615.5 1054.5h6v6h-6zM626.5 1038.5h6v6h-6zM635.5 1020.5h6v6h-6zM644.5 1001.5h6v6h-6zM655.5 979.5h6v6h-6zM664.5 961.5h6v6h-6zM674.5 945.5h6v6h-6zM684.5 930.5h6v6h-6zM694.5 919.5h6v6h-6zM703.5 908.5h6v6h-6zM712.5 899.5h6v6h-6zM721.5 894.5h6v6h-6zM732.5 886.5h6v6h-6zM741.5 883.5h6v6h-6zM750.5 880.5h6v6h-6zM760.5 877.5h6v6h-6zM769.5 878.5h6v6h-6zM780.5 878.5h6v6h-6zM789.5 882.5h6v6h-6zM798.5 883.5h6v6h-6zM809.5 885.5h6v6h-6zM818.5 885.5h6v6h-6zM827.5 883.5h6v6h-6zM837.5 882.5h6v6h-6zM846.5 878.5h6v6h-6zM857.5 875.5h6v6h-6zM866.5 873.5h6v6h-6zM875.5 871.5h6v6h-6zM884.5 867.5h6v6h-6zM893.5 865.5h6v6h-6zM903.5 861.5h6v6h-6zM914.5 860.5h6v6h-6zM923.5 858.5h6v6h-6zM932.5 855.5h6v6h-6zM941.5 855.5h6v6h-6zM950.5 853.5h6v6h-6zM960.5 852.5h6v6h-6zM971.5 850.5h6v6h-6zM980.5 849.5h6v6h-6z"/>
<text class="tk" text-anchor="end" transform="translate(600.7 861.3) scale(0.98 1)">3.36</text>
<text class="tk" text-anchor="end" transform="translate(600.7 914.98) scale(0.98 1)">2.52</text>
<text class="tk" text-anchor="end" transform="translate(600.7 968.65) scale(0.98 1)">1.68</text>
<text class="tk" text-anchor="end" transform="translate(600.7 1022.33) scale(0.98 1)">0.84</text>
<text class="tk" text-anchor="end" transform="translate(600.7 1076) scale(0.98 1)">0.00</text>
<text class="tk" text-anchor="middle" transform="translate(608.1 1099.8) scale(0.98 1)">0.00</text>
<text class="tk" text-anchor="middle" transform="translate(735.35 1099.8) scale(0.98 1)">400.00</text>
<text class="tk" text-anchor="middle" transform="translate(862.6 1099.8) scale(0.98 1)">800.00</text>
<text class="tk" text-anchor="middle" transform="translate(989.85 1099.8) scale(0.98 1)">1200.00</text>
<text class="yl" text-anchor="middle" transform="translate(546.2 951.9) rotate(-90)">Semivariance</text>
<text class="sf" x="950.5" y="1053.75">SPT</text>
<text class="sf cp" x="801.15" y="1120">(h)</text>
</g>
<g id="next-row"><path class="ax" d="M88.5 1122V1134M607 1122V1134"/><text class="tk" text-anchor="end" transform="translate(82.6 1141.4) scale(0.98 1)">0.694</text><text class="tk" text-anchor="end" transform="translate(599 1141.4) scale(0.98 1)">5.00</text></g>
</svg>
</body>
</html>
